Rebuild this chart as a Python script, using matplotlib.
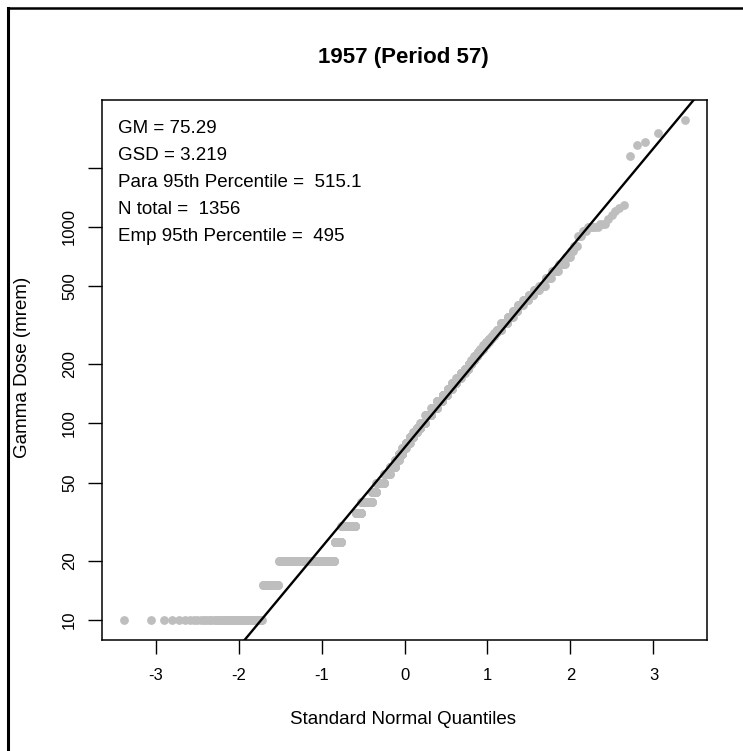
import numpy as np
import matplotlib.pyplot as plt
from statistics import NormalDist

# dose values (mrem) and how many records sit at each value
dose_levels = [10, 15, 20, 25, 30, 35, 40, 45, 50,
               55, 60, 65, 70, 75, 80, 85, 90, 95, 100,
               110, 120, 130, 140, 150, 160, 170, 180, 190,
               200, 210, 220, 230, 240, 250, 260, 270, 280, 290, 300, 325,
               350, 375, 400, 425, 450, 475, 500, 550, 600, 650, 700,
               750, 800, 900, 950, 1000, 1030, 1100, 1150, 1200, 1250, 1300,
               2300, 2600, 2700, 3000, 3500]
dose_counts = [59, 28, 183, 33, 73, 33, 63, 26, 49,
               36, 34, 24, 22, 23, 26, 24, 23, 22, 31,
               38, 35, 32, 29, 25, 24, 23, 21, 18,
               14, 14, 14, 12, 13, 11, 11, 10, 10, 9, 15, 21,
               15, 13, 13, 12, 11, 10, 10, 9, 9, 7, 5,
               3, 3, 3, 3, 6, 3, 1, 1, 1, 1, 1,
               1, 1, 1, 1, 1]

gm = 75.29
gsd = 3.219
stats_lines = ["GM = 75.29",
               "GSD = 3.219",
               "Para 95th Percentile =  515.1",
               "N total =  1356",
               "Emp 95th Percentile =  495"]
y_ticks = [10, 20, 50, 100, 200, 500, 1000, 2000]
y_tick_labels = ["10", "20", "50", "100", "200", "500", "1000", ""]
x_ticks = [-3, -2, -1, 0, 1, 2, 3]

plt.rcParams['font.family'] = ['Liberation Sans', 'DejaVu Sans']

doses = np.sort(np.repeat(dose_levels, dose_counts))
n = len(doses)
probs = (np.arange(1, n + 1) - 0.5) / n
z = np.array([NormalDist().inv_cdf(p) for p in probs])

fig = plt.figure(figsize=(7.43, 7.51), dpi=100)
ax = fig.add_axes([102 / 743, 1 - 640 / 751, 605 / 743, 540 / 751])

ax.scatter(z, doses, s=40, color='#BEBEBE', linewidths=0, zorder=2)

# R-style 4% padding on both axes
xr = z.max() - z.min()
xlim = (z.min() - 0.04 * xr, z.max() + 0.04 * xr)
ly = np.log10(doses)
yr = ly.max() - ly.min()
ylim = (10 ** (ly.min() - 0.04 * yr), 10 ** (ly.max() + 0.04 * yr))

xs = np.array(xlim)
ax.plot(xs, np.exp(np.log(gm) + np.log(gsd) * xs), color='black', lw=1.7, zorder=3)

ax.set_yscale('log')
ax.set_xlim(xlim)
ax.set_ylim(ylim)
ax.set_yticks(y_ticks)
ax.set_yticklabels(y_tick_labels)
ax.minorticks_off()
ax.set_xticks(x_ticks)
ax.set_xticklabels([str(t) for t in x_ticks])
ax.tick_params(length=10, width=1, labelsize=12, pad=8)
ax.tick_params(axis='x', pad=10)
plt.setp(ax.get_yticklabels(), rotation=90, va='center')
for s in ax.spines.values():
    s.set_linewidth(1.1)

for i, line in enumerate(stats_lines):
    ax.text(0.026, 0.948 - i * 0.05, line, transform=ax.transAxes,
            ha='left', va='center', fontsize=13.5)

fig.text(403.5 / 743, 1 - 58 / 751, "1957 (Period 57)", ha='center', va='center',
         fontsize=16, fontweight='bold')
fig.text(403.5 / 743, 1 - 720 / 751, "Standard Normal Quantiles",
         ha='center', va='center', fontsize=13.5)
fig.text(23 / 743, 1 - 367 / 751, "Gamma Dose (mrem)", rotation=90,
         ha='center', va='center', fontsize=13.5)

# outer frame lines (left and top only)
fig.add_artist(plt.Line2D([8 / 743, 8 / 743], [0, 1 - 8 / 751], color='black', lw=2.2))
fig.add_artist(plt.Line2D([8 / 743, 1], [1 - 8 / 751, 1 - 8 / 751], color='black', lw=1.8))

fig.savefig('out.png', dpi=100)
